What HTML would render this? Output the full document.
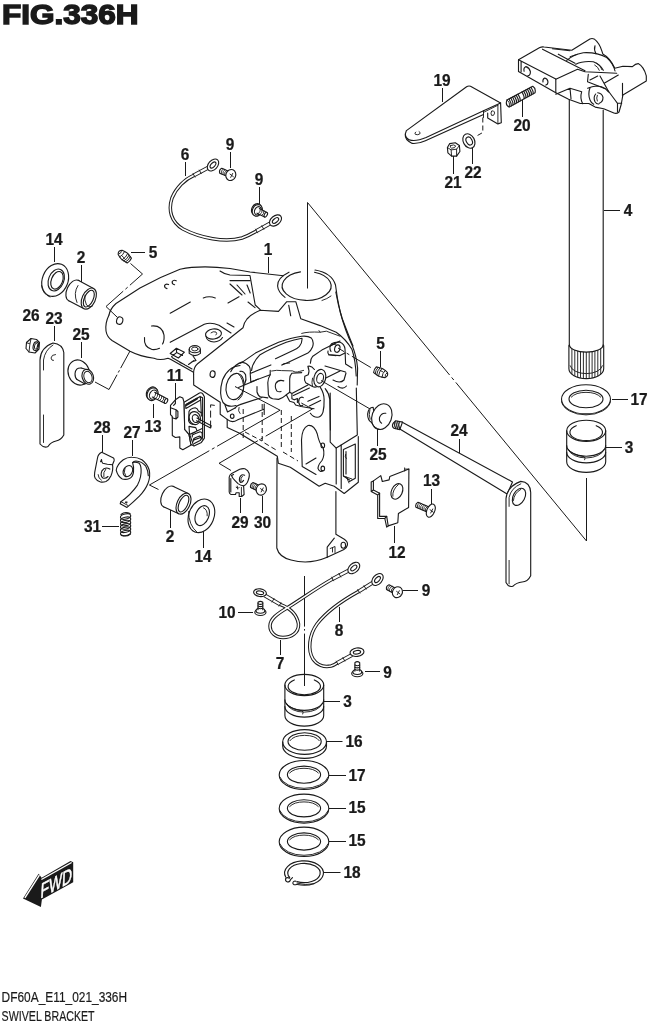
<!DOCTYPE html>
<html><head><meta charset="utf-8"><title>FIG.336H SWIVEL BRACKET</title>
<style>
html,body{margin:0;padding:0;background:#fff;}
body{width:648px;height:1024px;overflow:hidden;font-family:"Liberation Sans",sans-serif;}
svg{display:block;position:absolute;left:0;top:0;will-change:transform;opacity:0.999;}
.ln{fill:none;stroke:#1a1a1a;stroke-width:1.12;stroke-linecap:round;stroke-linejoin:round;}
.lf{fill:#fff;stroke:#1a1a1a;stroke-width:1.12;stroke-linecap:round;stroke-linejoin:round;}
.th{fill:none;stroke:#1a1a1a;stroke-width:0.92;stroke-linecap:round;stroke-linejoin:round;}
.ld{fill:none;stroke:#1a1a1a;stroke-width:1;}
.dd{fill:none;stroke:#1a1a1a;stroke-width:1;stroke-dasharray:14 3 2 3;}
.da{fill:none;stroke:#1a1a1a;stroke-width:1;stroke-dasharray:5 3;}
.lb{font-family:"Liberation Sans",sans-serif;font-weight:bold;fill:#1a1a1a;stroke:#1a1a1a;stroke-width:0.25;}
.bk{fill:#1a1a1a;stroke:none;}
</style></head><body>
<svg width="648" height="1024" viewBox="0 0 648 1024">
<rect x="0" y="0" width="648" height="1024" fill="#fff"/>
<text x="1.9" y="24.3" font-size="28.3" class="lb" style="stroke:#1a1a1a;stroke-width:1.5;stroke-linejoin:miter" textLength="136.6" lengthAdjust="spacingAndGlyphs">FIG.336H</text>
<text x="1.6" y="1001.8" font-size="15" fill="#1a1a1a" stroke="#1a1a1a" stroke-width="0.2" font-family="Liberation Sans, sans-serif" textLength="125.5" lengthAdjust="spacingAndGlyphs">DF60A_E11_021_336H</text>
<text x="1.6" y="1020.9" font-size="15" fill="#1a1a1a" stroke="#1a1a1a" stroke-width="0.2" font-family="Liberation Sans, sans-serif" textLength="93" lengthAdjust="spacingAndGlyphs">SWIVEL BRACKET</text>
<text transform="translate(442 85.8) scale(0.965 1)" font-size="16.0" text-anchor="middle" class="lb">19</text>
<text transform="translate(522 130.8) scale(0.965 1)" font-size="16.0" text-anchor="middle" class="lb">20</text>
<text transform="translate(453 187.8) scale(0.965 1)" font-size="16.0" text-anchor="middle" class="lb">21</text>
<text transform="translate(473 177.8) scale(0.965 1)" font-size="16.0" text-anchor="middle" class="lb">22</text>
<text transform="translate(628 215.8) scale(0.965 1)" font-size="16.0" text-anchor="middle" class="lb">4</text>
<text transform="translate(185 159.8) scale(0.965 1)" font-size="16.0" text-anchor="middle" class="lb">6</text>
<text transform="translate(230 149.8) scale(0.965 1)" font-size="16.0" text-anchor="middle" class="lb">9</text>
<text transform="translate(259 184.8) scale(0.965 1)" font-size="16.0" text-anchor="middle" class="lb">9</text>
<text transform="translate(54 244.8) scale(0.965 1)" font-size="16.0" text-anchor="middle" class="lb">14</text>
<text transform="translate(81 262.8) scale(0.965 1)" font-size="16.0" text-anchor="middle" class="lb">2</text>
<text transform="translate(153 257.8) scale(0.965 1)" font-size="16.0" text-anchor="middle" class="lb">5</text>
<text transform="translate(268 254.8) scale(0.965 1)" font-size="16.0" text-anchor="middle" class="lb">1</text>
<text transform="translate(31 320.8) scale(0.965 1)" font-size="16.0" text-anchor="middle" class="lb">26</text>
<text transform="translate(54 323.8) scale(0.965 1)" font-size="16.0" text-anchor="middle" class="lb">23</text>
<text transform="translate(81 339.8) scale(0.965 1)" font-size="16.0" text-anchor="middle" class="lb">25</text>
<text transform="translate(380.5 349.3) scale(0.965 1)" font-size="16.0" text-anchor="middle" class="lb">5</text>
<text transform="translate(175 380.8) scale(0.965 1)" font-size="16.0" text-anchor="middle" class="lb">11</text>
<text transform="translate(153 431.8) scale(0.965 1)" font-size="16.0" text-anchor="middle" class="lb">13</text>
<text transform="translate(102 432.8) scale(0.965 1)" font-size="16.0" text-anchor="middle" class="lb">28</text>
<text transform="translate(132 437.8) scale(0.965 1)" font-size="16.0" text-anchor="middle" class="lb">27</text>
<text transform="translate(459 435.8) scale(0.965 1)" font-size="16.0" text-anchor="middle" class="lb">24</text>
<text transform="translate(378 459.8) scale(0.965 1)" font-size="16.0" text-anchor="middle" class="lb">25</text>
<text transform="translate(639 404.8) scale(0.965 1)" font-size="16.0" text-anchor="middle" class="lb">17</text>
<text transform="translate(629 452.8) scale(0.965 1)" font-size="16.0" text-anchor="middle" class="lb">3</text>
<text transform="translate(431.5 485.8) scale(0.965 1)" font-size="16.0" text-anchor="middle" class="lb">13</text>
<text transform="translate(92.5 531.8) scale(0.965 1)" font-size="16.0" text-anchor="middle" class="lb">31</text>
<text transform="translate(170 541.8) scale(0.965 1)" font-size="16.0" text-anchor="middle" class="lb">2</text>
<text transform="translate(203 561.8) scale(0.965 1)" font-size="16.0" text-anchor="middle" class="lb">14</text>
<text transform="translate(240 527.8) scale(0.965 1)" font-size="16.0" text-anchor="middle" class="lb">29</text>
<text transform="translate(262.5 527.8) scale(0.965 1)" font-size="16.0" text-anchor="middle" class="lb">30</text>
<text transform="translate(397 557.8) scale(0.965 1)" font-size="16.0" text-anchor="middle" class="lb">12</text>
<text transform="translate(426 595.8) scale(0.965 1)" font-size="16.0" text-anchor="middle" class="lb">9</text>
<text transform="translate(227 617.8) scale(0.965 1)" font-size="16.0" text-anchor="middle" class="lb">10</text>
<text transform="translate(339 635.8) scale(0.965 1)" font-size="16.0" text-anchor="middle" class="lb">8</text>
<text transform="translate(280 668.8) scale(0.965 1)" font-size="16.0" text-anchor="middle" class="lb">7</text>
<text transform="translate(387.5 677.6) scale(0.965 1)" font-size="16.0" text-anchor="middle" class="lb">9</text>
<text transform="translate(347.5 706.8) scale(0.965 1)" font-size="16.0" text-anchor="middle" class="lb">3</text>
<text transform="translate(354 747.3) scale(0.965 1)" font-size="16.0" text-anchor="middle" class="lb">16</text>
<text transform="translate(357 780.8) scale(0.965 1)" font-size="16.0" text-anchor="middle" class="lb">17</text>
<text transform="translate(357 813.3) scale(0.965 1)" font-size="16.0" text-anchor="middle" class="lb">15</text>
<text transform="translate(357 846.3) scale(0.965 1)" font-size="16.0" text-anchor="middle" class="lb">15</text>
<text transform="translate(352 877.8) scale(0.965 1)" font-size="16.0" text-anchor="middle" class="lb">18</text>
<line x1="442.5" y1="88" x2="442.5" y2="102" class="ld"/>
<line x1="522.5" y1="100" x2="522.5" y2="117" class="ld"/>
<line x1="453.5" y1="156" x2="453.5" y2="174" class="ld"/>
<line x1="472.5" y1="148" x2="472.5" y2="164" class="ld"/>
<line x1="604" y1="210.5" x2="620" y2="210.5" class="ld"/>
<line x1="185.5" y1="162" x2="185.5" y2="176" class="ld"/>
<line x1="230.5" y1="152" x2="230.5" y2="168" class="ld"/>
<line x1="259.5" y1="187" x2="259.5" y2="204" class="ld"/>
<line x1="54.5" y1="247" x2="54.5" y2="262" class="ld"/>
<line x1="81.5" y1="265" x2="81.5" y2="282" class="ld"/>
<line x1="131" y1="252.5" x2="145" y2="252.5" class="ld"/>
<line x1="268.5" y1="257" x2="268.5" y2="273" class="ld"/>
<line x1="54.5" y1="326" x2="54.5" y2="341" class="ld"/>
<line x1="81.5" y1="342" x2="81.5" y2="358" class="ld"/>
<line x1="175.5" y1="383" x2="175.5" y2="400" class="ld"/>
<line x1="153.5" y1="404" x2="153.5" y2="418" class="ld"/>
<line x1="102.5" y1="435" x2="102.5" y2="452" class="ld"/>
<line x1="132.5" y1="440" x2="132.5" y2="456" class="ld"/>
<line x1="459.5" y1="439" x2="459.5" y2="453" class="ld"/>
<line x1="377.5" y1="429" x2="377.5" y2="446" class="ld"/>
<line x1="612" y1="399.5" x2="628" y2="399.5" class="ld"/>
<line x1="606" y1="447.5" x2="622" y2="447.5" class="ld"/>
<line x1="431.5" y1="489" x2="431.5" y2="504" class="ld"/>
<line x1="102" y1="526.5" x2="119" y2="526.5" class="ld"/>
<line x1="170.5" y1="510" x2="170.5" y2="528" class="ld"/>
<line x1="203.5" y1="530" x2="203.5" y2="548" class="ld"/>
<line x1="240.5" y1="498" x2="240.5" y2="513" class="ld"/>
<line x1="262.5" y1="496" x2="262.5" y2="513" class="ld"/>
<line x1="394.5" y1="526" x2="394.5" y2="543" class="ld"/>
<line x1="403" y1="590.5" x2="418" y2="590.5" class="ld"/>
<line x1="238" y1="612.5" x2="253" y2="612.5" class="ld"/>
<line x1="339.5" y1="607" x2="339.5" y2="622" class="ld"/>
<line x1="280.5" y1="640" x2="280.5" y2="655" class="ld"/>
<line x1="365" y1="671.5" x2="380" y2="671.5" class="ld"/>
<line x1="323.5" y1="701.5" x2="340" y2="701.5" class="ld"/>
<line x1="326" y1="741.5" x2="342.5" y2="741.5" class="ld"/>
<line x1="329" y1="775.5" x2="346" y2="775.5" class="ld"/>
<line x1="329" y1="808.5" x2="346" y2="808.5" class="ld"/>
<line x1="329" y1="841.5" x2="346" y2="841.5" class="ld"/>
<line x1="323.5" y1="872.5" x2="340.5" y2="872.5" class="ld"/>
<path d="M307.5,288.5 L307.5,202.5 L449.6,375 M451.6,377.4 L453.8,380 M455.8,382.4 L586.5,541 L586.5,478" class="ld" />
<path d="M569.3,98 L569.3,346 M603.2,110 L603.2,346" class="ln" />
<path d="M569.4,344.7 A16.9,7.4 0 0 0 603.2,344.7" class="ln" />
<path d="M568.9,345.5 L568.9,368.8 A17.4,9.8 0 0 0 603.7,368.8 L603.7,345.5" class="ln" />
<path d="M570.2,365.8 A16.2,8.8 0 0 0 602.4,365.8" class="th" />
<path d="M571.9,348.9 L571.9,373.7" class="th" />
<path d="M574.8,350.4 L574.8,375.5" class="th" />
<path d="M577.7,351.4 L577.7,376.7" class="th" />
<path d="M580.5,352.0 L580.5,377.4" class="th" />
<path d="M583.4,352.3 L583.4,377.9" class="th" />
<path d="M586.3,352.4 L586.3,378.0" class="th" />
<path d="M589.2,352.3 L589.2,377.9" class="th" />
<path d="M592.1,352.0 L592.1,377.4" class="th" />
<path d="M594.9,351.4 L594.9,376.7" class="th" />
<path d="M597.8,350.4 L597.8,375.5" class="th" />
<path d="M600.7,348.9 L600.7,373.7" class="th" />
<ellipse cx="586" cy="399.3" rx="24.5" ry="14.6" class="ln"/>
<ellipse cx="586" cy="399" rx="17" ry="8.8" class="ln"/>
<path d="M561.6,401.6 A24.5,14.6 0 0 0 610.4,401.6" class="th" />
<path d="M571.3,397.1 A16.2,8.2 0 0 1 600.7,397.1" class="th" />
<ellipse cx="586.2" cy="430.8" rx="19.5" ry="10.6" class="ln"/>
<path d="M596.2,425.7 A16.3,8.3 0 1 1 576.2,425.7" class="ln" />
<path d="M566.7,430.8 L566.7,461.8 A19.5,10.6 0 0 0 605.7,461.8 L605.7,430.8" class="ln" />
<path d="M566.7,445.6 A19.5,10.6 0 0 0 605.7,445.6" class="ln" />
<path d="M566.7,452.3 A19.5,10.6 0 0 0 605.7,452.3" class="ln" />
<path d="M603.9,449.6 A17.9,9.799999999999999 0 0 1 568.5,449.6" class="th" />
<path d="M567.9000000000001,449.1 Q572.7,455.20000000000005 584.2,456.70000000000005 Q585.7,458.20000000000005 584.7,459.80000000000007" class="th" />
<ellipse cx="304.3" cy="685" rx="19.4" ry="10.6" class="ln"/>
<path d="M314.3,679.9 A16.2,8.3 0 1 1 294.3,679.9" class="ln" />
<path d="M284.90000000000003,685 L284.90000000000003,715.5 A19.4,10.6 0 0 0 323.7,715.5 L323.7,685" class="ln" />
<path d="M284.90000000000003,699.8 A19.4,10.6 0 0 0 323.7,699.8" class="ln" />
<path d="M284.90000000000003,706.5 A19.4,10.6 0 0 0 323.7,706.5" class="ln" />
<path d="M321.9,703.8 A17.799999999999997,9.799999999999999 0 0 1 286.7,703.8" class="th" />
<path d="M286.1,703.3 Q290.90000000000003,709.4 302.3,710.9 Q303.8,712.4 302.8,714.0" class="th" />
<path d="M304.5,576 L304.5,626.6 M304.5,629 L304.5,630.6 M304.5,633.6 L304.5,686" class="ld" />
<ellipse cx="304.6" cy="742" rx="21.9" ry="12.4" class="ln"/>
<ellipse cx="304.6" cy="741.5" rx="16.6" ry="8.8" class="ln"/>
<path d="M282.7,742 L282.7,746 A21.9,12.4 0 0 0 326.5,746 L326.5,742" class="ln" />
<path d="M289.9,740.7 A15.6,8.0 0 0 1 319.3,740.7" class="th" />
<ellipse cx="304" cy="775" rx="24.8" ry="14.5" class="ln"/>
<ellipse cx="304" cy="774.7" rx="16.6" ry="8.6" class="ln"/>
<path d="M279.8,777 A24.8,14.5 0 0 0 328.2,777" class="th" />
<path d="M289.7,772.9 A15.8,8.0 0 0 1 318.3,772.9" class="th" />
<ellipse cx="304" cy="808.6" rx="24.8" ry="14.5" class="ln"/>
<ellipse cx="304" cy="808.3000000000001" rx="16.6" ry="8.6" class="ln"/>
<path d="M279.8,810.6 A24.8,14.5 0 0 0 328.2,810.6" class="th" />
<path d="M289.7,806.5 A15.8,8.0 0 0 1 318.3,806.5" class="th" />
<ellipse cx="304" cy="841.8" rx="24.8" ry="14.7" class="ln"/>
<ellipse cx="304" cy="841.5" rx="16.6" ry="8.6" class="ln"/>
<path d="M279.8,843.8 A24.8,14.7 0 0 0 328.2,843.8" class="th" />
<path d="M289.7,839.7 A15.8,8.0 0 0 1 318.3,839.7" class="th" />
<path d="M285.8,877.2 A19.4,12.2 0 1 1 297.4,884.5" class="ln" />
<path d="M289.7,877.5 A16.2,9.6 0 1 1 296.9,881.6" class="ln" />
<path d="M289.5,878.2 Q287,877 285.6,878.6 Q285,881 287.4,882 Q290,882 290.5,879.6 L292.5,877.6" class="ln" />
<path d="M296.6,884.4 Q293.5,885.6 292.8,883.2 Q293,880.6 296,881.2" class="ln" />
<path d="M297,883.2 Q305,885.6 314,883.8" class="th" />
<path d="M194,175.3 C185,179 176,188 172,198 C168,210 171,222 183,229 C200,238 225,243 242,238 C248,236 252,233.5 256.5,231" fill="none" stroke="#1a1a1a" stroke-width="3.5" stroke-linecap="butt" stroke-linejoin="round"/>
<path d="M194,175.3 C185,179 176,188 172,198 C168,210 171,222 183,229 C200,238 225,243 242,238 C248,236 252,233.5 256.5,231" fill="none" stroke="#fff" stroke-width="1.5" stroke-linecap="butt" stroke-linejoin="round"/>
<path d="M208.0,167.7 L194.0,175.3" fill="none" stroke="#1a1a1a" stroke-width="4" stroke-linecap="butt"/>
<path d="M208.0,167.7 L194.0,175.3" fill="none" stroke="#fff" stroke-width="2.2" stroke-linecap="butt"/>
<path d="M199.3,170.1 L201.2,173.6" class="th"/>
<path d="M193.0,173.5 L195.0,177.1" class="th"/>
<ellipse cx="213" cy="165" rx="6.9" ry="4.55" class="lf" transform="rotate(-48 213 165)"/>
<ellipse cx="213" cy="165" rx="3.7" ry="1.95" class="lf" transform="rotate(-48 213 165)"/>
<path d="M270.5,223.3 L256.5,231.0" fill="none" stroke="#1a1a1a" stroke-width="4" stroke-linecap="butt"/>
<path d="M270.5,223.3 L256.5,231.0" fill="none" stroke="#fff" stroke-width="2.2" stroke-linecap="butt"/>
<path d="M261.8,225.8 L263.8,229.3" class="th"/>
<path d="M255.5,229.2 L257.5,232.8" class="th"/>
<ellipse cx="275.5" cy="220.5" rx="6.9" ry="4.55" class="lf" transform="rotate(-40 275.5 220.5)"/>
<ellipse cx="275.5" cy="220.5" rx="3.7" ry="1.95" class="lf" transform="rotate(-40 275.5 220.5)"/>
<path d="M280,604.4 C290,608 297,615 298.5,624 C299,633 291,637.5 283,637.5 C275,637.5 270,632 270,626 C270,619 277,614 287,608 C300,600 318,587 332.6,579" fill="none" stroke="#1a1a1a" stroke-width="3.5" stroke-linecap="butt" stroke-linejoin="round"/>
<path d="M280,604.4 C290,608 297,615 298.5,624 C299,633 291,637.5 283,637.5 C275,637.5 270,632 270,626 C270,619 277,614 287,608 C300,600 318,587 332.6,579" fill="none" stroke="#fff" stroke-width="1.5" stroke-linecap="butt" stroke-linejoin="round"/>
<path d="M264.5,595.3 L280.0,604.4" fill="none" stroke="#1a1a1a" stroke-width="4" stroke-linecap="butt"/>
<path d="M264.5,595.3 L280.0,604.4" fill="none" stroke="#fff" stroke-width="2.2" stroke-linecap="butt"/>
<path d="M272.0,602.0 L274.0,598.6" class="th"/>
<path d="M279.0,606.1 L281.0,602.7" class="th"/>
<ellipse cx="260" cy="592.7" rx="6.4" ry="3.84" class="lf" transform="rotate(8 260 592.7)"/>
<ellipse cx="260" cy="592.7" rx="3.7" ry="1.78" class="lf" transform="rotate(8 260 592.7)"/>
<path d="M348.7,570.6 L332.6,579.0" fill="none" stroke="#1a1a1a" stroke-width="4" stroke-linecap="butt"/>
<path d="M348.7,570.6 L332.6,579.0" fill="none" stroke="#fff" stroke-width="2.2" stroke-linecap="butt"/>
<path d="M338.9,573.5 L340.8,577.0" class="th"/>
<path d="M331.7,577.2 L333.5,580.8" class="th"/>
<ellipse cx="353.8" cy="568" rx="6.9" ry="4.55" class="lf" transform="rotate(-42 353.8 568)"/>
<ellipse cx="353.8" cy="568" rx="3.7" ry="1.95" class="lf" transform="rotate(-42 353.8 568)"/>
<path d="M358.8,591.4 C345,599 327,611 317,624 C309,635 307.5,650 313,659 C317,665 324,667.5 331,666 C333,665.5 335,664.5 337.2,663" fill="none" stroke="#1a1a1a" stroke-width="3.5" stroke-linecap="butt" stroke-linejoin="round"/>
<path d="M358.8,591.4 C345,599 327,611 317,624 C309,635 307.5,650 313,659 C317,665 324,667.5 331,666 C333,665.5 335,664.5 337.2,663" fill="none" stroke="#fff" stroke-width="1.5" stroke-linecap="butt" stroke-linejoin="round"/>
<path d="M372.7,582.6 L358.8,591.4" fill="none" stroke="#1a1a1a" stroke-width="4" stroke-linecap="butt"/>
<path d="M372.7,582.6 L358.8,591.4" fill="none" stroke="#fff" stroke-width="2.2" stroke-linecap="butt"/>
<path d="M364.0,585.7 L366.1,589.1" class="th"/>
<path d="M357.7,589.7 L359.9,593.1" class="th"/>
<ellipse cx="377.5" cy="579.5" rx="6.9" ry="4.55" class="lf" transform="rotate(-48 377.5 579.5)"/>
<ellipse cx="377.5" cy="579.5" rx="3.7" ry="1.95" class="lf" transform="rotate(-48 377.5 579.5)"/>
<path d="M351.9,655.0 L337.2,663.0" fill="none" stroke="#1a1a1a" stroke-width="4" stroke-linecap="butt"/>
<path d="M351.9,655.0 L337.2,663.0" fill="none" stroke="#fff" stroke-width="2.2" stroke-linecap="butt"/>
<path d="M342.9,657.6 L344.8,661.1" class="th"/>
<path d="M336.2,661.2 L338.2,664.8" class="th"/>
<ellipse cx="357" cy="652.2" rx="7" ry="4.20" class="lf" transform="rotate(-8 357 652.2)"/>
<ellipse cx="357" cy="652.2" rx="3.7" ry="1.78" class="lf" transform="rotate(-8 357 652.2)"/>
<path d="M229.1,171.4 L221.8,168.2 Q218.7,169.9 219.7,173.2 L227.0,176.3 Z" class="lf"/>
<path d="M226.7,170.3 Q223.8,172.0 224.6,175.3" class="ln" style="stroke-width:0.85"/>
<path d="M225.0,169.6 Q222.1,171.3 222.9,174.6" class="ln" style="stroke-width:0.85"/>
<path d="M223.3,168.9 Q220.4,170.6 221.2,173.9" class="ln" style="stroke-width:0.85"/>
<ellipse cx="230.8" cy="175.0" rx="4.9" ry="5.6" class="lf" transform="rotate(203 230.8 175.0)"/>
<path d="M230.0,174.1 L233.4,176.7 M232.7,173.4 L230.7,177.4" class="th"/>
<ellipse cx="256.2" cy="209.9" rx="4.8" ry="6.0" class="lf" transform="rotate(27 257.3 210.4)"/>
<ellipse cx="257.3" cy="210.4" rx="4.8" ry="6.0" class="lf" transform="rotate(27 257.3 210.4)"/>
<ellipse cx="258.0" cy="210.8" rx="3.3" ry="4.3" class="ln" transform="rotate(27 258.0 210.8)"/>
<path d="M257.0,213.2 L264.6,217.0 L266.9,212.4 L259.4,208.5" class="lf"/>
<ellipse cx="265.8" cy="214.7" rx="1.4" ry="2.6" class="lf" transform="rotate(27 265.8 214.7)"/>
<path d="M258.1,213.7 Q260.9,212.2 260.4,209.1" class="ln" style="stroke-width:0.85"/>
<path d="M259.9,214.6 Q262.6,213.1 262.2,210.0" class="ln" style="stroke-width:0.85"/>
<path d="M261.6,215.5 Q264.4,214.0 264.0,210.9" class="ln" style="stroke-width:0.85"/>
<path d="M396.1,588.4 L389.0,584.7 Q385.8,586.0 386.5,589.5 L393.5,593.2 Z" class="lf"/>
<path d="M393.7,587.2 Q390.7,588.6 391.2,591.9" class="ln" style="stroke-width:0.85"/>
<path d="M392.1,586.3 Q389.0,587.8 389.5,591.1" class="ln" style="stroke-width:0.85"/>
<path d="M390.5,585.4 Q387.4,586.9 387.9,590.2" class="ln" style="stroke-width:0.85"/>
<ellipse cx="397.4" cy="592.2" rx="4.9" ry="5.6" class="lf" transform="rotate(208 397.4 592.2)"/>
<path d="M396.6,591.4 L400.0,594.0 M399.3,590.7 L397.3,594.7" class="th"/>
<path d="M259.8,485.7 L253.0,482.5 Q249.8,484.1 250.6,487.6 L257.4,490.8 Z" class="lf"/>
<path d="M257.3,484.5 Q254.3,486.2 254.9,489.6" class="ln" style="stroke-width:0.85"/>
<path d="M255.8,483.8 Q252.8,485.5 253.4,488.9" class="ln" style="stroke-width:0.85"/>
<path d="M254.3,483.1 Q251.3,484.8 251.9,488.2" class="ln" style="stroke-width:0.85"/>
<ellipse cx="261.3" cy="489.5" rx="5.0" ry="5.7" class="lf" transform="rotate(205 261.3 489.5)"/>
<path d="M260.5,488.6 L263.9,491.2 M263.2,487.9 L261.2,491.9" class="th"/>
<path d="M429.7,507.2 L418.0,502.2 Q414.9,503.9 415.9,507.2 L427.6,512.2 Z" class="lf"/>
<path d="M427.5,506.3 Q424.6,508.0 425.4,511.2" class="ln" style="stroke-width:0.85"/>
<path d="M425.9,505.6 Q423.0,507.3 423.8,510.6" class="ln" style="stroke-width:0.85"/>
<path d="M424.3,504.9 Q421.4,506.6 422.2,509.9" class="ln" style="stroke-width:0.85"/>
<path d="M422.7,504.2 Q419.8,505.9 420.6,509.2" class="ln" style="stroke-width:0.85"/>
<path d="M421.1,503.5 Q418.2,505.2 418.9,508.5" class="ln" style="stroke-width:0.85"/>
<path d="M419.4,502.8 Q416.6,504.6 417.3,507.8" class="ln" style="stroke-width:0.85"/>
<ellipse cx="430.8" cy="510.6" rx="3.9" ry="7.0" class="lf" transform="rotate(203 430.8 510.6)"/>
<path d="M430.0,509.7 L433.4,512.3 M432.7,509.0 L430.7,513.0" class="th"/>
<ellipse cx="151.5" cy="393.7" rx="5.3" ry="6.6" class="lf" transform="rotate(27 152.6 394.2)"/>
<ellipse cx="152.6" cy="394.2" rx="5.3" ry="6.6" class="lf" transform="rotate(27 152.6 394.2)"/>
<ellipse cx="153.3" cy="394.6" rx="3.6" ry="4.8" class="ln" transform="rotate(27 153.3 394.6)"/>
<path d="M152.3,397.0 L164.8,403.3 L167.1,398.7 L154.7,392.3" class="lf"/>
<ellipse cx="166.0" cy="401.0" rx="1.4" ry="2.6" class="lf" transform="rotate(27 166.0 401.0)"/>
<path d="M153.4,397.5 Q156.2,396.0 155.7,392.9" class="ln" style="stroke-width:0.85"/>
<path d="M155.4,398.6 Q158.2,397.1 157.8,393.9" class="ln" style="stroke-width:0.85"/>
<path d="M157.5,399.6 Q160.3,398.1 159.8,395.0" class="ln" style="stroke-width:0.85"/>
<path d="M159.5,400.6 Q162.3,399.1 161.9,396.0" class="ln" style="stroke-width:0.85"/>
<path d="M161.6,401.7 Q164.4,400.2 163.9,397.1" class="ln" style="stroke-width:0.85"/>
<ellipse cx="357.3" cy="673.6" rx="5.6" ry="3.2" class="lf"/>
<ellipse cx="357.3" cy="672.0" rx="4.4" ry="2.5" class="lf"/>
<path d="M354.90000000000003,671.1 L354.90000000000003,662.6 Q357.3,660.6 359.7,662.6 L359.7,671.1" class="lf"/>
<path d="M354.90000000000003,669.4 Q357.3,670.8 359.7,669.4" class="ln" style="stroke-width:1.1"/>
<path d="M354.90000000000003,667.1999999999999 Q357.3,668.5999999999999 359.7,667.1999999999999" class="ln" style="stroke-width:1.1"/>
<path d="M354.90000000000003,665.0 Q357.3,666.4 359.7,665.0" class="ln" style="stroke-width:1.1"/>
<ellipse cx="260.4" cy="612.3" rx="5.6" ry="3.2" class="lf"/>
<ellipse cx="260.4" cy="610.6999999999999" rx="4.4" ry="2.5" class="lf"/>
<path d="M258.0,609.8 L258.0,602.3 Q260.4,600.3 262.79999999999995,602.3 L262.79999999999995,609.8" class="lf"/>
<path d="M258.0,608.0999999999999 Q260.4,609.4999999999999 262.79999999999995,608.0999999999999" class="ln" style="stroke-width:1.1"/>
<path d="M258.0,605.8999999999999 Q260.4,607.2999999999998 262.79999999999995,605.8999999999999" class="ln" style="stroke-width:1.1"/>
<path d="M258.0,603.6999999999999 Q260.4,605.0999999999999 262.79999999999995,603.6999999999999" class="ln" style="stroke-width:1.1"/>
<path d="M 406.4,130.6 L 466.6,86.7 Q 468.2,85.7 470.5,86.2 L 500.6,102.9 L 483.5,110.7 L 426.1,137.6 Q 415.7,141.8 409.4,139.9 Q 403.4,137.1 406.4,130.6 Z" class="lf" />
<path d="M 405.3,134.8 Q 404.8,140.1 412.2,143.4 Q 419.1,143.8 425.4,140.8 L 483.5,114.4" class="ln" />
<path d="M 500.6,102.9 L 501.3,122.8 L 497.9,123.9 L 487.7,117.9 L 487.7,113.1" class="ln" />
<path d="M 497.9,105.2 L 497.9,122.8 M 483.5,110.7 L 483.5,117.5 M 483.5,112.4 L 497.9,105.2" class="th" />
<path d="M 491.6,111.2 Q 490.2,113.1 491.6,115.4 Q 494.1,116.3 494.6,113.1 Q 494.1,109.8 491.6,111.2" class="th" />
<path d="M 415.7,132.0 Q 414.1,133.0 415.4,134.4 Q 418.0,135.3 419.8,133.9 Q 421.0,132.5 419.1,131.6" class="th" />
<path d="M 482.8,117.5 L 482.8,132.5 L 475.9,136.4" class="da" />
<path d="M 506.9,100.1 L 532.8,86.2 Q 536.0,88.1 535.1,92.7 L 509.2,107.0 Q 505.0,105.4 506.9,100.1 Z" class="lf" />
<path d="M 506.9,100.1 Q 510.6,101.9 509.2,107.0" class="th" />
<path d="M 509.0,99.0 Q 511.5,103.1 511.3,105.9" class="ln" style="stroke-width:1.1"/>
<path d="M 510.8,98.0 Q 513.3,102.1 513.1,104.9" class="ln" style="stroke-width:1.1"/>
<path d="M 512.6,97.0 Q 515.1,101.2 514.9,103.9" class="ln" style="stroke-width:1.1"/>
<path d="M 514.4,96.1 Q 516.9,100.2 516.7,102.9" class="ln" style="stroke-width:1.1"/>
<path d="M 516.2,95.1 Q 518.8,99.2 518.5,101.9" class="ln" style="stroke-width:1.1"/>
<path d="M 518.0,94.1 Q 520.6,98.2 520.3,100.9" class="ln" style="stroke-width:1.1"/>
<path d="M 521.9,92.0 Q 524.5,96.1 524.2,98.7" class="ln" style="stroke-width:1.1"/>
<path d="M 523.7,91.1 Q 526.3,95.1 526.0,97.7" class="ln" style="stroke-width:1.1"/>
<path d="M 525.5,90.1 Q 528.1,94.1 527.9,96.7" class="ln" style="stroke-width:1.1"/>
<path d="M 527.4,89.1 Q 529.9,93.1 529.7,95.7" class="ln" style="stroke-width:1.1"/>
<path d="M 529.2,88.1 Q 531.7,92.1 531.5,94.7" class="ln" style="stroke-width:1.1"/>
<path d="M 531.0,87.2 Q 533.5,91.1 533.3,93.7" class="ln" style="stroke-width:1.1"/>
<path d="M 447.4,147.5 L 449.7,143.6 L 455.3,142.7 L 459.4,145.5 L 459.9,151.5 L 456.6,156.1 L 451.6,156.1 L 447.9,152.9 Z" class="lf" />
<path d="M 447.4,147.5 L 451.1,149.9 L 456.6,149.2 L 459.4,145.5 M 451.1,149.9 L 451.6,156.1 M 456.6,149.2 L 456.6,156.1" class="th" />
<path d="M 450.6,145.5 Q 449.2,147.3 451.6,148.2 Q 455.3,148.2 455.7,145.9 Q 454.3,144.1 450.6,145.5" class="th" />
<ellipse cx="468.9" cy="141" rx="5.6" ry="7.6" class="lf" transform="rotate(-28 468.9 141)"/>
<ellipse cx="469.2" cy="141" rx="2.9" ry="4.2" class="lf" transform="rotate(-28 469.2 141)"/>
<path d="M 518.5,59.8 L 539.8,47.5 Q 541.9,46.6 544.1,47.0 L 571.8,50.2 L 589.9,38.9 Q 592.0,38.1 594.1,38.9 Q 599.4,42.8 602.0,51.3 L 602.8,53.9 Q 610.1,57.7 614.8,68.3 L 622.9,66.2 L 632.4,66.6 Q 635.6,63.6 638.2,63.6 Q 643.7,66.6 646.3,75.8 L 646.3,81.1 L 622.9,94.9 L 621.2,104.5 L 619.0,112.0 Q 616.5,114.1 613.9,113.0 L 603.7,108.8 L 595.2,107.1 L 588.8,103.5 L 580.3,103.5 L 568.6,99.2 L 555.8,92.8 L 518.5,71.5 Z" class="lf" />
<path d="M 518.5,59.8 L 555.8,79.0 L 555.8,92.8 M 521.1,61.1 L 521.1,71.7" class="ln" />
<path d="M 526.0,66.6 Q 529.6,67.9 530.4,71.7 Q 530.4,75.6 527.9,75.6 M 526.0,66.6 Q 523.2,67.9 524.1,71.3" class="ln" />
<path d="M 555.8,79.2 L 577.5,69.2 L 585.0,71.7 L 616.7,73.3" class="ln" />
<path d="M 542.5,49.2 L 585.0,70.8 M 558.3,54.2 L 575.0,63.3 M 552.5,48.7 L 570.0,50.8" class="ln" />
<path d="M 544.7,78.0 Q 547.7,78.7 548.0,82.0 Q 547.7,85.0 545.7,85.0 M 544.7,78.0 Q 542.3,79.3 543.0,82.0" class="ln" />
<path d="M 566.7,60.3 Q 572.5,55.0 583.3,52.7 Q 596.7,52.0 606.7,57.5 Q 613.3,63.3 615.0,71.0" class="ln" />
<path d="M 575.8,64.3 Q 582.5,60.7 593.3,61.7 Q 600.3,64.3 603.3,70.3" class="ln" />
<path d="M 596.7,63.3 Q 601.0,65.7 602.0,69.7 M 594.7,65.0 Q 598.3,67.0 599.3,70.3" class="th" />
<path d="M 570.0,56.7 L 577.0,54.3" class="th" />
<path d="M 595.0,45.8 Q 593.7,49.7 596.0,53.7" class="ln" />
<path d="M 588.3,74.2 L 587.5,81.7 L 605.3,88.7 M 590.0,80.0 L 597.7,76.0 M 600.0,76.0 L 608.3,91.0 M 604.2,83.3 L 618.3,75.0 M 622.5,83.3 L 622.5,96.3" class="ln" />
<path d="M 608.3,91.0 L 615.0,100.0 L 617.5,103.3 L 617.5,111.7 M 617.5,103.3 L 621.7,103.3" class="ln" />
<path d="M 555.8,94.2 L 570.0,88.3 L 581.7,91.7 Q 579.7,98.3 582.7,103.7 M 570.0,88.3 L 571.0,98.7" class="ln" />
<path d="M 587.7,88.3 Q 592.0,86.3 596.7,86.0 Q 602.0,86.3 605.3,88.7 L 608.7,92.0" class="ln" />
<path d="M 590.0,87.7 Q 587.7,94.0 590.0,100.0 Q 591.3,103.3 593.7,104.3" class="ln" />
<path d="M 597.7,92.7 Q 602.0,93.3 603.0,97.3 Q 603.0,102.0 599.3,103.3" class="ln" />
<path d="M 595.7,94.0 Q 593.0,97.3 595.0,101.7 Q 596.7,104.3 598.7,104.0" class="ln" />
<path d="M 597.3,95.3 Q 596.0,98.0 597.3,101.0" class="th" />
<ellipse cx="55.2" cy="280" rx="12.8" ry="16.9" class="lf" transform="rotate(22 55.2 280)"/>
<ellipse cx="56.2" cy="280" rx="7.6" ry="11.4" class="lf" transform="rotate(22 56.2 280)"/>
<ellipse cx="57" cy="280.3" rx="5.6" ry="9.2" class="ln" transform="rotate(22 57 280.3)"/>
<path d="M 41.5,285.5 Q 42.5,294.0 50.0,297.0" class="th" />
<ellipse cx="73.5" cy="290.5" rx="6.6" ry="11.2" class="lf" transform="rotate(25 73.5 290.5)"/>
<path d="M68.8,300.7 L84.1,308.8 L93.5,288.4 L78.2,280.3 Z" fill="#fff" stroke="none"/>
<path d="M68.8,300.7 L84.1,308.8 M78.2,280.3 L93.5,288.4" class="ln"/>
<ellipse cx="88.8" cy="298.6" rx="6.6" ry="11.2" class="lf" transform="rotate(25 88.8 298.6)"/>
<ellipse cx="88.8" cy="298.6" rx="4.3999999999999995" ry="9.0" class="ln" transform="rotate(25 88.8 298.6)"/>
<path d="M 78.0,285.5 Q 73.0,293.0 77.0,302.5" class="th" />
<path d="M 85.0,295.0 Q 84.0,300.0 86.5,305.0 Q 89.0,307.5 92.0,306.5" class="th" />
<path d="M122.1,250.2 Q117.9,250.3 118.2,254.5 L119.7,257.0 L121.2,258.9 L122.5,260.1 L127.2,262.9 Q130.1,261.3 131.4,258.2 L128.1,253.9 L126.8,252.7 L124.7,251.4 Z" class="lf"/>
<path d="M124.7,251.4 Q123.2,255.1 119.7,257.0 M127.7,253.6 Q126.0,257.6 122.2,259.8 M129.1,255.2 Q127.5,259.0 123.9,260.9 M130.2,256.7 Q128.9,260.3 125.6,261.9" class="ln" style="stroke-width:0.95"/>
<path d="M122.1,256.0 L124.6,258.4" class="th"/>
<path d="M121.4,251.3 Q121.3,253.4 119.1,253.9" class="th"/>
<path d="M130.5,263.5 L142.5,274 L106,306.5 L117,317" class="dd" style="stroke-dasharray:32.8 3 3 3 100"/>
<path d="M 26.5,342.5 L 31.0,338.5 L 36.5,339.5 L 39.5,342.5 L 39.0,349.0 L 35.0,353.0 L 29.0,352.0 L 26.0,348.5 Z" class="lf" />
<path d="M 31.0,338.5 Q 29.5,345.0 29.0,352.0 M 26.5,342.5 Q 28.0,344.0 29.5,343.5" class="th" />
<ellipse cx="35.8" cy="346.2" rx="2.6" ry="4.4" class="ln" transform="rotate(12 35.8 346.2)"/>
<ellipse cx="36.0" cy="346.2" rx="1.5" ry="3.0" class="th" transform="rotate(12 36.0 346.2)"/>
<path d="M 40.0,360.0 Q 40.5,347.5 53.0,343.0 Q 62.5,344.0 63.8,352.5 L 63.8,435.0 Q 61.0,440.0 56.0,441.0 Q 51.0,442.0 48.0,446.5 Q 44.0,448.5 40.0,444.0 Z" class="lf" />
<path d="M 43.5,370.0 L 43.5,360.0 Q 45.0,350.0 53.0,345.0 M 43.5,415.0 L 43.5,442.5" class="th" />
<path d="M 55.5,354.5 Q 51.5,354.5 51.0,358.0 Q 51.5,361.0 53.5,360.5" class="th" />
<ellipse cx="78.8" cy="372.5" rx="10.6" ry="12.8" class="lf" transform="rotate(-20 78.8 372.5)"/>
<path d="M 81.2,368.0 L 88.0,370.0 M 77.0,379.5 L 85.0,384.0" class="ln" />
<path d="M 75.0,373.8 Q 75.5,367.5 81.2,368.0 M 75.0,373.8 Q 75.0,378.0 77.0,379.5" class="ln" />
<ellipse cx="87.8" cy="376.8" rx="5.6" ry="7.6" class="lf" transform="rotate(-18 87.8 376.8)"/>
<ellipse cx="88.0" cy="377.0" rx="4.0" ry="5.8" class="th" transform="rotate(-18 88.0 377.0)"/>
<path d="M95,382 L109,389.5 L130,351" class="dd" style="stroke-dasharray:32.7 2.5 2.5 2.5 100"/>
<path d="M 101.7,452.3 L 113.5,457.9 Q 114.4,459.1 114.1,460.7 L 112.5,464.7 Q 113.5,469.6 111.0,475.8 Q 109.1,480.1 106.0,481.5 Q 103.0,482.5 100.5,482.0 Q 96.8,481.0 95.2,478.3 Q 94.0,475.8 94.7,472.3 L 97.4,458.5 Q 98.1,453.8 101.7,452.3 Z" class="lf" />
<path d="M 101.5,459.5 Q 101.6,462.2 102.8,463.2 L 107.3,464.2 L 112.5,464.7 M 101.5,459.5 L 100.6,461.7" class="ln" />
<path d="M 109.8,469.1 Q 104.8,466.2 101.9,470.9 Q 99.9,475.8 102.8,478.0 Q 105.8,478.8 108.0,476.5" class="ln" />
<path d="M 105.8,469.1 Q 102.8,472.3 103.8,476.8" class="th" />
<path d="M 98.1,474.6 Q 98.1,478.3 101.4,480.2" class="th" />
<path d="M 116.2,470.2 Q 116.9,464.7 123.3,459.8 Q 127.7,457.0 132.0,457.3 Q 137.5,457.3 141.9,459.8 Q 147.0,463.5 149.3,470.2 Q 150.5,477.0 148.0,483.2 Q 145.6,489.4 139.4,496.2 Q 133.2,502.3 127.0,507.4 L 120.2,503.7 L 120.9,501.7 Q 130.7,494.9 137.5,485.1 Q 141.6,477.0 141.1,469.6 Q 140.9,464.7 138.9,463.0 Q 135.7,461.7 132.6,462.5 Q 134.0,466.5 133.5,472.3 Q 132.6,477.0 129.5,478.5 Q 125.8,480.0 122.3,479.0 Q 117.8,476.8 116.2,470.2 Z" class="lf" />
<ellipse cx="127.9" cy="471.1" rx="4.4" ry="5.9" class="ln" transform="rotate(30 127.9 471.1)"/>
<path d="M 124.9,468.1 Q 123.1,472.3 126.0,476.5" class="th" />
<path d="M 132.6,462.5 Q 133.5,461.2 135.9,461.0 Q 141.9,461.2 145.8,466.2 Q 148.0,470.2 148.3,475.8" class="ln" />
<path d="M 120.9,501.7 L 127.8,505.4 M 126.0,501.5 L 126.5,503.2 M 125.3,502.5 L 127.3,502.2" class="th" />
<ellipse cx="125.6" cy="516.5" rx="5.2" ry="2.6" class="ln" transform="rotate(-12 125.6 516.5)"/>
<ellipse cx="125.6" cy="519.8" rx="5.2" ry="2.6" class="ln" transform="rotate(-12 125.6 519.8)"/>
<ellipse cx="125.6" cy="523.1" rx="5.2" ry="2.6" class="ln" transform="rotate(-12 125.6 523.1)"/>
<ellipse cx="125.6" cy="526.4" rx="5.2" ry="2.6" class="ln" transform="rotate(-12 125.6 526.4)"/>
<ellipse cx="125.6" cy="529.7" rx="5.2" ry="2.6" class="ln" transform="rotate(-12 125.6 529.7)"/>
<ellipse cx="125.6" cy="533.0" rx="5.2" ry="2.6" class="ln" transform="rotate(-12 125.6 533.0)"/>
<path d="M121,514.5 Q125,511 130,513.5 M121.5,535 Q126,537.5 130.5,534" class="ln" />
<ellipse cx="168.2" cy="496.5" rx="6.4" ry="11.2" class="lf" transform="rotate(25 168.2 496.5)"/>
<path d="M163.5,506.7 L178.8,513.8 L188.2,493.4 L172.9,486.3 Z" fill="#fff" stroke="none"/>
<path d="M163.5,506.7 L178.8,513.8 M172.9,486.3 L188.2,493.4" class="ln"/>
<ellipse cx="183.5" cy="503.6" rx="6.4" ry="11.2" class="lf" transform="rotate(25 183.5 503.6)"/>
<ellipse cx="183.5" cy="503.6" rx="4.2" ry="9.0" class="ln" transform="rotate(25 183.5 503.6)"/>
<ellipse cx="201.4" cy="515.8" rx="12.6" ry="17.4" class="lf" transform="rotate(22 201.4 515.8)"/>
<ellipse cx="202.2" cy="515.6" rx="6.6" ry="10.4" class="lf" transform="rotate(22 202.2 515.6)"/>
<path d="M 188.6,511.5 Q 188.6,525.1 196.7,531.9" class="th" />
<path d="M 203.5,507.8 Q 207.8,509.6 207.2,515.8" class="th" />
<path d="M 229.2,477.0 Q 229.6,474.8 231.7,473.5 L 239.7,469.3 Q 242.4,468.3 244.9,468.8 Q 248.1,470.1 249.2,473.5 Q 249.8,477.2 247.3,482.4 Q 245.9,484.9 243.6,485.9 L 244.1,494.5 L 241.7,496.5 L 239.2,496.5 L 239.2,492.8 L 236.0,492.8 L 235.5,494.5 L 231.0,494.5 Q 229.3,493.8 229.2,492.0 Z" class="lf" />
<path d="M 231.5,475.5 Q 232.3,478.0 234.8,480.4 L 238.0,483.6 Q 240.4,485.4 243.6,485.9 M 231.5,475.5 L 233.5,474.5 M 230.8,478.5 L 230.8,492.0" class="ln" />
<path d="M 244.6,475.2 Q 241.4,473.5 239.7,477.5 Q 238.7,481.2 240.7,482.4 Q 242.4,482.4 243.6,480.4" class="ln" />
<path d="M 242.4,476.2 Q 240.4,478.0 240.9,480.7" class="th" />
<path d="M 236.2,487.3 L 238.2,488.3 L 239.2,487.3 M 237.2,486.1 L 237.7,489.1 M 241.4,487.3 L 241.4,495.7" class="th" />
<path d="M149.4,485 L158.5,489.5" class="ld" />
<path d="M219,463.3 L231,470.5" class="ld" />
<path d="M384.9,377.6 Q388.8,376.2 387.3,372.3 L385.2,370.4 L383.1,369.0 L381.6,368.2 L376.3,366.9 Q373.9,369.3 373.6,372.6 L378.0,375.8 L379.6,376.5 L382.0,377.1 Z" class="lf"/>
<path d="M382.0,377.1 Q382.3,373.2 385.2,370.4 M378.5,376.0 Q379.0,371.6 382.0,368.4 M376.7,374.8 Q377.1,370.7 379.9,367.8 M375.2,373.7 Q375.4,369.9 378.1,367.4" class="ln" style="stroke-width:0.95"/>
<path d="M383.1,372.0 L380.0,370.4" class="th"/>
<path d="M385.2,376.3 Q384.6,374.3 386.7,373.2" class="th"/>
<path d="M370.8,367.5 L338,348" class="dd" style="stroke-dasharray:22 3 3 3"/>
<line x1="380.5" y1="351" x2="380.5" y2="367" class="ld"/>
<path d="M 373.1,407.2 Q 368.5,407.2 367.6,414.1 Q 367.6,420.3 371.6,422.6 L 375.5,422.6 Z" class="lf" />
<path d="M 369.8,410.2 Q 368.5,414.6 370.1,419.2" class="th" />
<ellipse cx="381.8" cy="416.6" rx="9.8" ry="13.2" class="lf" transform="rotate(20 381.8 416.6)"/>
<path d="M 385.8,413.3 Q 381.6,412.6 379.6,417.2 Q 378.7,421.4 381.6,423.2" class="ln" />
<path d="M 371.6,422.6 Q 374.7,428.8 380.1,429.5" class="th" />
<path d="M 401.8,422.1 L 512.5,481.9 L 507.1,494.1 L 399.8,428.9 Z" class="lf" />
<path d="M 393.0,423.5 Q 391.6,426.2 393.7,428.2 L 399.8,429.6 L 402.5,422.1 L 395.7,420.7 Z" class="lf" />
<path d="M 395.3,421.4 Q 393.7,424.8 395.7,428.6 M 397.4,421.4 Q 395.7,425.2 397.7,428.9 M 399.4,421.8 Q 397.7,425.5 399.8,429.2" class="ln" />
<path d="M 506.0,498.6 Q 507.3,486.3 520.8,481.4 Q 530.1,482.0 530.7,492.5 L 530.7,575.8 Q 527.6,582.0 522.1,582.0 Q 516.5,582.6 512.8,586.3 Q 508.5,587.5 506.0,582.6 Z" class="lf" />
<path d="M 509.1,506.4 L 509.1,497.4 Q 511.0,488.1 520.8,483.8 M 509.1,560.4 L 509.1,583.8" class="th" />
<ellipse cx="519.0" cy="496.8" rx="5.8" ry="9.2" class="ln" transform="rotate(28 519.0 496.8)"/>
<path d="M 513.4,500.5 Q 514.0,493.1 520.8,489.4" class="th" />
<path d="M 408.9,469.1 L 389.8,476.5 L 389.1,479.9 L 382.3,481.5 L 380.8,475.6 L 373.4,480.9 L 373.4,490.1 L 379.6,493.2 L 379.6,516.4 L 386.7,516.4 L 388.2,525.9 L 397.8,522.8 L 398.4,513.6 L 408.6,507.4 Z" class="lf" />
<path d="M 373.4,480.9 L 371.2,482.1 L 371.2,491.4 L 377.7,495.1 L 377.7,518.5 L 384.8,518.5 L 386.7,527.2 L 388.2,525.9 M 371.2,491.4 L 373.4,490.1 M 377.7,495.1 L 379.6,493.2 M 384.8,518.5 L 386.7,516.4" class="ln" />
<path d="M 405.2,469.1 L 408.9,469.1 M 404.6,467.9 L 404.6,471.0" class="th" />
<ellipse cx="396.9" cy="491.4" rx="5.4" ry="8.2" class="ln" transform="rotate(25 396.9 491.4)"/>
<path d="M 392.8,496.3 Q 392.2,489.5 398.4,484.6" class="th" />
<path d="M109,315 Q110,309 116,303.5 L140,288 Q160,277 180,269.3 Q200,265 230,268.5 L250,272 L283.5,275.7" class="ln" />
<path d="M109,315 Q105,323 106,331 Q107,337 112,340.5 L130,351.3 Q140,356.5 154,358.3 Q160,360.8 168,358.2 L170.5,359.3 L193.5,372.2" class="ln" />
<ellipse cx="119.7" cy="320.6" rx="3.1" ry="3.8" class="ln" transform="rotate(15 119.7 320.6)"/>
<path d="M168.6,284.6 Q166,283.2 164.6,285.4 Q164.2,288 167,288.6 M176.2,280.8 Q173.6,279.4 172.2,281.6 Q171.8,284.2 174.6,284.8" class="ln" />
<path d="M170.2,313.2 L190.3,302.1 M203.3,298 Q209,295.6 215.3,298" class="ln" />
<path d="M151.5,326 Q162,325 164,335 Q164.5,341 162.5,344 M144.5,337.5 Q143.5,347 152,349.5 Q156,350 159.5,348.3" class="ln" />
<path d="M170.2,342.3 L204.3,324.2 Q211,321.8 219,325.2 L231,333" class="ln" />
<ellipse cx="213.5" cy="334" rx="8" ry="5" class="ln" transform="rotate(-8 213.5 334)"/>
<path d="M206,336.5 Q207,341.5 214,342 Q220,341.5 222.5,337.5" class="ln" />
<path d="M211,332.8 Q213,331 216,332 Q217.5,333.5 216,335" class="th" />
<ellipse cx="194.8" cy="349.2" rx="5.6" ry="3.6" class="ln"/>
<ellipse cx="194.8" cy="349.0" rx="3.2" ry="1.9" class="th"/>
<path d="M189.2,349.4 L189.2,353.4 Q194.8,357.9 200.4,353.4 L200.4,349.4" class="ln" />
<path d="M170.2,353.5 L176.4,348.2 L184.4,352.2 L178.4,358 Z M176.4,348.2 L176.6,352.6 L171.6,356.5 M176.6,352.6 L182.5,355.4" class="ln" />
<path d="M172,357.5 L192,369 M180,362.5 L184.5,364.5 M188.5,364.5 L194,360.5 M193,356 L196,360.5 L191.5,362" class="ln" />
<path d="M220,271 Q224,274 230,275 L250,275.5 L255.2,305 L260.2,309.6" class="ln" />
<path d="M230,280.6 L250.2,280.6 M230,284 L242,295 M237,285 L245,294 M247,285 L250.2,293 M248,302 L255,307.6" class="ln" />
<path d="M228,303 L239,296.7 M227,323 L234,327" class="ln" />
<path d="M300.5,271.9 A24.5,14.5 0 1 0 314.5,272.2" class="ln" />
<path d="M289,272.2 Q277,278 277.6,286 Q278,292 285,297.4" class="ln" />
<path d="M315,270 Q332,273 335.5,285 Q337,298 340.2,312 Q345,330 352,345 Q356.5,356 357.6,368 L357.2,385" class="ln" />
<path d="M335.8,292 Q338,305 342,318 Q348,334 353,346" class="ln" />
<path d="M331,296 Q327,299 322,300.5" class="th" />
<path d="M193.6,374 Q193.4,367.2 197.6,363.8 L243,327.8 Q244,322.5 247,319 Q252,313.5 260.2,310.2 L278.5,311.4 L286.8,301.7 L295.8,301.7 L300.8,318.8 L320.1,325.6 L336.2,332.2 Q346,339 352,349.5 Q355.5,360 356.2,376" class="ln" />
<path d="M288.7,305.2 L290.7,315.8" class="ln" />
<path d="M193.6,374 L193.7,385 L220.2,402.2 L220.2,414.2 L227.2,419.4 L227.2,427.5 L239.1,433.1 L264.2,448.2 L277.3,456.2 L278.3,463.2 L290.3,467.2 L319.1,486.3 L325.2,483.2 L334.2,486.3 L344.2,493.5 L358.3,482.2 L358.3,436.5" class="ln" />
<ellipse cx="212.6" cy="374.1" rx="2.5" ry="3.3" class="ln" transform="rotate(10 212.6 374.1)"/>
<path d="M240,365.5 Q228,366.5 222.5,380 Q218.5,394 223,402.5 Q228,408 236,405.5" class="ln" />
<ellipse cx="235" cy="386.5" rx="8.8" ry="13.3" class="ln" transform="rotate(12 235 386.5)"/>
<path d="M238,373.5 Q244,379 243.5,389 Q243,397 238,400" class="th" />
<path d="M 230.7,371.7 Q 233.8,364.7 243.1,361.6 L 255.4,353.1 Q 267.8,347.0 278.6,342.3 Q 290.9,337.7 301.7,336.2 Q 307.9,335.6 311.3,338.0 Q 314.4,341.6 312.5,347.0 Q 311.0,350.8 307.9,353.1 L 286.3,363.2 L 282.0,364.9" class="ln" />
<path d="M 251.6,370.4 Q 252.0,363.2 260.1,354.7 Q 270.9,348.5 286.3,342.3 Q 294.0,339.6 302.0,338.3 Q 302.3,343.0 299.4,346.4 Q 297.1,348.8 294.0,350.1 L 275.5,358.7" class="ln" />
<path d="M 240.0,363.2 Q 244.6,360.9 249.3,366.3 Q 250.8,369.4 250.2,373.5 L 270.9,364.9 M 250.2,373.5 L 250.8,381.9 L 270.2,374.8 M 270.2,374.8 L 270.2,370.4" class="ln" />
<path d="M 240.0,371.4 Q 243.4,370.4 245.6,374.8 Q 246.8,379.4 244.6,384.3" class="ln" />
<path d="M 281.7,364.9 Q 283.5,363.0 286.3,363.3 L 289.7,363.0" class="th" />
<path d="M 271.6,371.0 Q 277.0,369.8 281.7,370.6 L 292.5,370.9 Q 295.2,372.6 297.4,372.0 L 299.6,371.4 L 303.6,370.4" class="th" />
<path d="M 238.5,387.4 L 258.2,379.1 M 257.0,386.5 L 257.0,392.0 Q 258.2,396.0 260.4,396.7 L 267.8,397.9" class="ln" />
<path d="M 270.2,374.8 Q 268.1,378.1 267.8,382.8 L 268.4,394.8 Q 269.6,398.2 272.7,398.8 L 278.6,399.4 Q 282.9,397.9 286.3,394.8 L 289.7,392.3 L 289.7,379.1 Q 289.7,375.7 291.9,373.2 L 301.7,372.6" class="ln" />
<path d="M 283.8,380.9 Q 278.6,379.1 275.8,383.4 Q 274.3,387.4 277.0,391.1 Q 278.9,392.3 281.0,391.4" class="ln" />
<path d="M 286.3,394.8 L 288.1,398.2 L 289.7,401.3 L 294.0,402.5 L 295.6,405.0 L 301.1,406.5 L 314.1,408.7" class="ln" />
<path d="M 299.3,398.5 Q 301.4,396.4 303.3,397.6 M 299.3,398.5 Q 297.7,401.9 299.9,405.3 Q 301.4,406.2 302.7,405.3" class="ln" />
<path d="M 289.7,392.3 L 291.9,393.6 L 291.9,398.8 L 294.3,399.8 M 291.9,393.6 L 307.9,384.9 M 293.4,395.4 L 309.4,388.0 M 294.3,399.8 L 297.4,398.5 L 297.4,402.5" class="ln" />
<path d="M 307.9,401.3 L 319.0,396.4 M 309.4,405.9 L 320.6,400.4" class="ln" />
<path d="M 307.9,366.4 Q 311.3,365.2 314.4,369.5 M 304.8,376.3 Q 303.9,379.7 305.7,382.8 L 312.5,386.5 Q 315.0,387.7 317.2,386.5 M 304.8,376.3 L 308.2,374.8 Q 309.8,370.4 307.9,366.4" class="ln" />
<path d="M 312.5,386.5 Q 311.3,382.5 312.5,378.1" class="th" />
<ellipse cx="319.8" cy="378.1" rx="5.8" ry="8.9" class="lf" transform="rotate(14 319.8 378.1)"/>
<ellipse cx="320.1" cy="378.3" rx="3.3" ry="5.0" class="ln" transform="rotate(14 320.1 378.3)"/>
<path d="M 320.2,387.1 Q 324.1,393.3 324.1,399.4 Q 324.3,407.2 323.0,412.1 Q 321.2,417.3 317.2,417.3 Q 313.1,417.3 310.4,413.3" class="ln" />
<path d="M 325.2,388.6 Q 329.2,393.6 329.8,399.4 L 330.4,430.0" class="ln" />
<path d="M 310.4,363.3 Q 310.4,358.7 312.8,356.2 L 321.8,350.1 L 340.0,341.1" class="ln" />
<path d="M 328.0,351.0 Q 327.3,353.1 328.9,354.7 L 336.0,355.6 M 330.4,346.0 Q 332.6,343.9 335.4,344.2" class="ln" />
<path d="M 325.8,378.1 L 340.0,371.0" class="ln" />
<path d="M 301.7,333.4 Q 307.9,331.5 320.2,332.2 L 326.4,331.2 L 340.0,336.2 M 320.2,332.2 L 319.0,330.6" class="th" />
<ellipse cx="337.3" cy="348.6" rx="2.6" ry="3.8" class="ln" transform="rotate(14 337.3 348.6)"/>
<path d="M331,351.5 Q328.5,347 331.5,343.8 Q335,341.6 340.2,342.2 Q344.5,344 345,349 L345.6,364 L352,368" class="ln" />
<path d="M345,353 L340,355.6 L328.5,354.7" class="ln" />
<path d="M333,380 Q340,384 344,380 L346,373 M338,386.5 Q343,390 346.5,386 M325,366 L345.5,372" class="ln" />
<path d="M330.2,393 L330.2,442.1 L336.2,448.1 L341.2,445 L341.2,488.5" class="ln" />
<path d="M336.2,448.1 L336.2,484 M356.3,388 L357.3,435.1 L341.2,445" class="ln" />
<path d="M343.4,449.6 L355.3,444 L355.3,478.2 L349.5,481.5 M343.4,449.6 L343.4,476 L349.5,480 M346,451.5 L346,474" class="ln" />
<path d="M343.4,476 L352,479 M346.5,477 L349,483" class="th" />
<path d="M345.5,454.5 Q344.5,457 346.3,458.5" class="th" />
<path d="M302.2,466.5 L301.5,440 Q302,428 308,425.5 Q314,424.5 317.3,434 Q319,443 323.2,448 Q325,455 322,460.5 Q318,465 318,468.5 Q320,473 323,470.5 M302.2,466.5 L316,474.5" class="ln" />
<ellipse cx="322.8" cy="445.4" rx="1.8" ry="2.4" class="ln"/>
<ellipse cx="322.8" cy="468.5" rx="1.8" ry="2.4" class="ln"/>
<path d="M306,464 L316,458" class="ln" />
<path d="M243.2,409 L243.2,440 M262.2,404 L262.2,444 M281.3,410 L281.3,448 M291.3,416 L291.3,452" class="da" />
<path d="M245,432 L262,441 M264.5,443 L277,450.5 M283,452 L298,461" class="da" />
<path d="M227.2,419.4 Q232,423.5 237.2,420.1 L264.2,409.1 M235.1,408.1 Q236.5,405.5 240,404.6 L262,397.5 M264.2,404 L264.2,414.5" class="ln" />
<ellipse cx="232.2" cy="416.2" rx="1.8" ry="2.2" class="ln"/>
<path d="M239,407.5 Q237.5,411 240,413.5" class="th" />
<path d="M225,405 L227.5,412 L235.1,408.1" class="ln" />
<path d="M277,458 L276.8,548 Q279,557 291,560 Q309,565 327.2,557.3" class="ln" />
<path d="M335.9,491.5 L335.9,534.3 L344.3,539.2 Q348,541.5 347.4,545 Q346.5,548.5 344,549.5 L327.2,557.3 L327.2,547.2 L334.3,538.2" class="ln" />
<ellipse cx="343.3" cy="545.2" rx="2.3" ry="3.0" class="ln"/>
<path d="M330.2,548.5 L335,546.5 L335,552.5 M332.5,548 L332.5,552" class="th" />
<path d="M235,386.5 L280.1,410.2" class="ld" />
<path d="M149.4,485 L280.1,410.2" class="dd" style="stroke-dasharray:69 3 3 3 200"/>
<path d="M301.3,403 L312.4,409" class="ld" />
<path d="M219,463.3 L312.4,409" class="dd" style="stroke-dasharray:45 3 3 3 200"/>
<path d="M321,380.5 L370.4,409.2" class="ld" />
<path d="M 170.5,405.4 L 175.4,399.8 L 179.8,396.7 L 182.8,398.0 L 184.1,402.3 L 184.7,429.4 L 189.0,434.4 L 190.9,444.3 L 192.1,444.5 L 182.8,449.8 L 179.8,448.0 L 179.8,436.9 L 175.4,437.5 L 172.3,435.6 L 172.3,416.5 L 170.5,414.6 Z" class="lf" />
<path d="M 170.5,407.8 L 176.0,409.7 L 177.9,411.5 L 177.9,417.1 L 176.0,419.0 L 172.3,417.7 M 176.0,409.7 L 176.0,419.0 M 175.4,399.8 L 175.4,403.5 L 173.6,405.4" class="ln" />
<path d="M 184.1,402.3 L 199.5,393.0 Q 201.4,392.4 202.6,393.6 L 204.4,396.7 L 204.4,438.1 L 201.4,442.4 L 194.0,446.1 L 190.9,444.3 L 189.0,434.4 L 184.7,429.4 Z" class="lf" />
<path d="M 185.6,405.0 L 200.1,396.4 L 202.6,397.8 L 202.6,436.9 L 200.1,440.6 L 194.3,443.6 M 185.6,405.0 L 185.9,408.5 L 200.7,400.1 L 200.1,396.4 M 200.7,400.1 L 201.4,415.9" class="ln" />
<path d="M 186.5,404.8 L 197.0,398.6" class="ln" style="stroke-width:2.2"/>
<path d="M 189.0,411.5 Q 190.2,408.5 195.2,407.8 Q 197.7,408.5 198.3,410.9 L 201.4,412.8 M 189.0,411.5 L 188.6,420.8 Q 189.6,423.9 193.1,424.5 L 197.0,422.7" class="ln" />
<ellipse cx="194.8" cy="418.1" rx="5.6" ry="6.6" class="lf" transform="rotate(-20 194.8 418.1)"/>
<ellipse cx="195.6" cy="418.6" rx="3.2" ry="4.0" class="lf" transform="rotate(-20 195.6 418.6)"/>
<path d="M 197.0,418.1 L 211.2,425.7 M 196.5,420.8 L 210.6,428.0 L 211.2,425.7" class="ln" />
<path d="M 189.0,426.4 L 189.6,434.4 L 193.3,444.5 M 189.0,426.4 L 195.8,427.6 L 197.0,430.9 L 190.9,433.8 M 189.6,434.4 L 192.3,433.4 Q 195.2,432.5 197.0,430.9 L 202.2,428.5" class="ln" />
<path d="M 192.3,436.9 Q 191.9,434.4 194.3,434.1 L 200.1,431.7 Q 202.0,431.9 202.2,433.8 L 202.2,439.3 M 193.3,441.2 Q 193.1,438.3 195.2,437.8 L 199.5,436.1 Q 201.0,436.4 201.0,438.1 M 194.0,439.9 L 200.7,437.5" class="ln" />
<path d="M 210.6,427.6 L 210.6,404.8 L 216.8,405.7" class="da" style="stroke-dasharray:7 3"/>
<path d="M 23.0,898.4 L 38.6,873.7 L 41.6,877.7 L 70.5,860.9 L 73.2,862.3 L 73.2,882.3 L 41.9,899.4 L 40.9,907.0 Z" class="bk" />
<path d="M 24.9,897.9 L 39.4,875.2 M 41.4,879.5 L 71.6,862.5" fill="none" stroke="#fff" stroke-width="1.4"/>
<text transform="matrix(0.66 -0.355 -0.05 1 40.2 898.6)" font-family="Liberation Sans, sans-serif" font-size="21" fill="#fff" stroke="#fff" stroke-width="0.6">FWD</text>
</svg>
</body></html>
